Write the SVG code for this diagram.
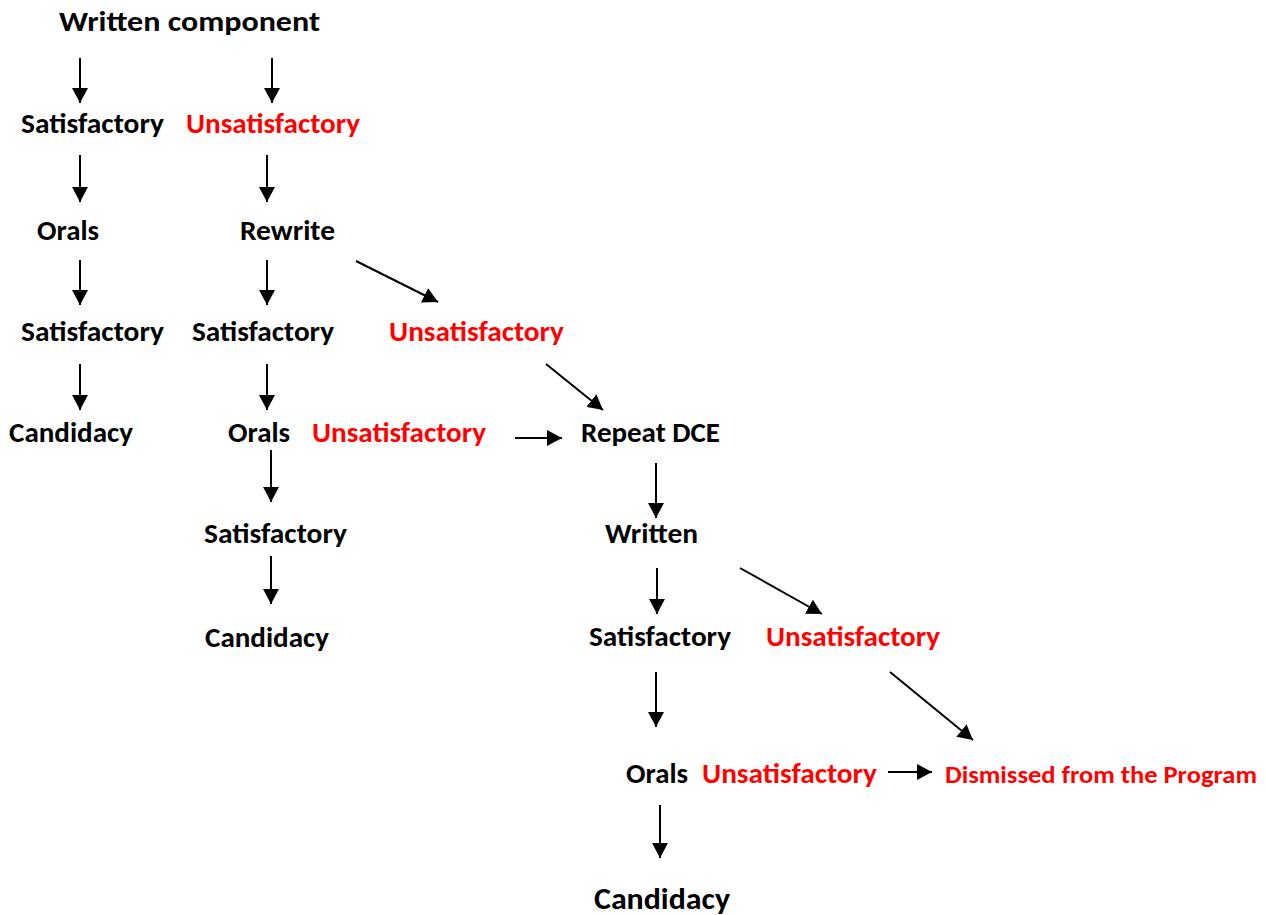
<svg xmlns="http://www.w3.org/2000/svg" width="1266" height="915" viewBox="0 0 1266 915">
<style>
text{font-family:Carlito,"Open Sans","Liberation Sans",sans-serif;font-weight:700;font-size:28px;fill:#000}
.r{fill:#ff0000}
.big{font-size:30px}
.sm{font-size:25px}
.c line{stroke:#000;stroke-width:2;marker-end:url(#ah)}
</style>
<defs>
<marker id="ah" markerUnits="userSpaceOnUse" markerWidth="15" markerHeight="16" refX="15" refY="8" orient="auto" viewBox="0 0 15 16">
<path d="M0,0 L15,8 L0,16 z" fill="#000"/>
</marker>
</defs>
<rect width="1266" height="915" fill="#fff"/>
<g id="n-written-component"><text x="59" y="31" textLength="261" lengthAdjust="spacingAndGlyphs">Written component</text></g>
<g id="n-sat1"><text x="21" y="133" textLength="143" lengthAdjust="spacingAndGlyphs">Satisfactory</text></g>
<g id="n-unsat1"><text class="r" x="186" y="133" textLength="174" lengthAdjust="spacingAndGlyphs">Unsatisfactory</text></g>
<g id="n-orals1"><text x="37" y="240" textLength="62" lengthAdjust="spacingAndGlyphs">Orals</text></g>
<g id="n-rewrite"><text x="240" y="240" textLength="95" lengthAdjust="spacingAndGlyphs">Rewrite</text></g>
<g id="n-sat2"><text x="21" y="341" textLength="143" lengthAdjust="spacingAndGlyphs">Satisfactory</text></g>
<g id="n-sat3"><text x="192" y="341" textLength="142" lengthAdjust="spacingAndGlyphs">Satisfactory</text></g>
<g id="n-unsat2"><text class="r" x="389" y="341" textLength="175" lengthAdjust="spacingAndGlyphs">Unsatisfactory</text></g>
<g id="n-cand1"><text x="9" y="442" textLength="124" lengthAdjust="spacingAndGlyphs">Candidacy</text></g>
<g id="n-orals2"><text x="228" y="442" textLength="62" lengthAdjust="spacingAndGlyphs">Orals</text></g>
<g id="n-unsat3"><text class="r" x="312" y="442" textLength="174" lengthAdjust="spacingAndGlyphs">Unsatisfactory</text></g>
<g id="n-repeat"><text x="581" y="442" textLength="139" lengthAdjust="spacingAndGlyphs">Repeat DCE</text></g>
<g id="n-sat4"><text x="204" y="543" textLength="143" lengthAdjust="spacingAndGlyphs">Satisfactory</text></g>
<g id="n-written2"><text x="605" y="543" textLength="93" lengthAdjust="spacingAndGlyphs">Written</text></g>
<g id="n-cand2"><text x="205" y="647" textLength="124" lengthAdjust="spacingAndGlyphs">Candidacy</text></g>
<g id="n-sat5"><text x="589" y="646" textLength="142" lengthAdjust="spacingAndGlyphs">Satisfactory</text></g>
<g id="n-unsat4"><text class="r" x="766" y="646" textLength="174" lengthAdjust="spacingAndGlyphs">Unsatisfactory</text></g>
<g id="n-orals3"><text x="626" y="783" textLength="62" lengthAdjust="spacingAndGlyphs">Orals</text></g>
<g id="n-unsat5"><text class="r" x="702" y="783" textLength="175" lengthAdjust="spacingAndGlyphs">Unsatisfactory</text></g>
<g id="n-dismissed"><text class="r sm" x="945" y="783" textLength="312" lengthAdjust="spacingAndGlyphs">Dismissed from the Program</text></g>
<g id="n-cand3"><text class="big" x="594" y="909" textLength="136" lengthAdjust="spacingAndGlyphs">Candidacy</text></g>
<g id="connectors" class="c">
<line x1="80" y1="58" x2="80" y2="103"/>
<line x1="272" y1="58" x2="272" y2="103"/>
<line x1="80" y1="155" x2="80" y2="202"/>
<line x1="267" y1="155" x2="267" y2="202"/>
<line x1="80" y1="260" x2="80" y2="305"/>
<line x1="267" y1="260" x2="267" y2="305"/>
<line x1="356" y1="261" x2="438" y2="302"/>
<line x1="80" y1="364" x2="80" y2="410"/>
<line x1="267" y1="364" x2="267" y2="410"/>
<line x1="546" y1="364" x2="603" y2="410"/>
<line x1="515" y1="438" x2="562" y2="438"/>
<line x1="271" y1="450" x2="271" y2="502"/>
<line x1="656" y1="463" x2="656" y2="518"/>
<line x1="271" y1="556" x2="271" y2="604"/>
<line x1="657" y1="568" x2="657" y2="614"/>
<line x1="740" y1="568" x2="822" y2="614"/>
<line x1="656" y1="672" x2="656" y2="727"/>
<line x1="890" y1="672" x2="973" y2="740"/>
<line x1="888" y1="772" x2="932" y2="772"/>
<line x1="660" y1="805" x2="660" y2="858"/>
</g>
</svg>
